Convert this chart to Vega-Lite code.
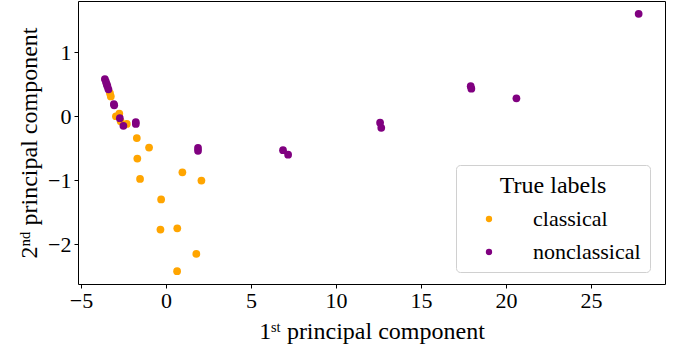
{
  "$schema": "https://vega.github.io/schema/vega-lite/v6.json",
  "width": 587,
  "height": 283,
  "autosize": "none",
  "padding": {"left": 78, "top": 1, "right": 30, "bottom": 68},
  "background": "white",
  "config": {
    "view": {"stroke": "black", "strokeWidth": 1},
    "font": "Liberation Serif"
  },
  "data": {
    "values": [
      {"pc1": -3.25, "pc2": 0.31, "label": "classical"},
      {"pc1": -3.3, "pc2": 0.36, "label": "classical"},
      {"pc1": -2.95, "pc2": 0.0, "label": "classical"},
      {"pc1": -2.75, "pc2": 0.04, "label": "classical"},
      {"pc1": -2.67, "pc2": -0.08, "label": "classical"},
      {"pc1": -2.31, "pc2": -0.12, "label": "classical"},
      {"pc1": -1.72, "pc2": -0.34, "label": "classical"},
      {"pc1": -1.0, "pc2": -0.49, "label": "classical"},
      {"pc1": -1.69, "pc2": -0.66, "label": "classical"},
      {"pc1": -1.53, "pc2": -0.98, "label": "classical"},
      {"pc1": 0.96, "pc2": -0.875, "label": "classical"},
      {"pc1": 2.08, "pc2": -1.005, "label": "classical"},
      {"pc1": -0.29, "pc2": -1.3, "label": "classical"},
      {"pc1": -0.33, "pc2": -1.77, "label": "classical"},
      {"pc1": 0.66, "pc2": -1.75, "label": "classical"},
      {"pc1": 1.78, "pc2": -2.15, "label": "classical"},
      {"pc1": 0.65, "pc2": -2.42, "label": "classical"},
      {"pc1": -3.6, "pc2": 0.58, "label": "nonclassical"},
      {"pc1": -3.54, "pc2": 0.54, "label": "nonclassical"},
      {"pc1": -3.49, "pc2": 0.5, "label": "nonclassical"},
      {"pc1": -3.45, "pc2": 0.47, "label": "nonclassical"},
      {"pc1": -3.39, "pc2": 0.42, "label": "nonclassical"},
      {"pc1": -3.07, "pc2": 0.19, "label": "nonclassical"},
      {"pc1": -3.05, "pc2": 0.17, "label": "nonclassical"},
      {"pc1": -2.72, "pc2": -0.03, "label": "nonclassical"},
      {"pc1": -2.51, "pc2": -0.15, "label": "nonclassical"},
      {"pc1": -1.78, "pc2": -0.09, "label": "nonclassical"},
      {"pc1": -1.78, "pc2": -0.12, "label": "nonclassical"},
      {"pc1": 1.88, "pc2": -0.495, "label": "nonclassical"},
      {"pc1": 1.88, "pc2": -0.54, "label": "nonclassical"},
      {"pc1": 6.88, "pc2": -0.53, "label": "nonclassical"},
      {"pc1": 7.18, "pc2": -0.6, "label": "nonclassical"},
      {"pc1": 12.59, "pc2": -0.1, "label": "nonclassical"},
      {"pc1": 12.66, "pc2": -0.18, "label": "nonclassical"},
      {"pc1": 17.92, "pc2": 0.47, "label": "nonclassical"},
      {"pc1": 17.96, "pc2": 0.43, "label": "nonclassical"},
      {"pc1": 20.61, "pc2": 0.28, "label": "nonclassical"},
      {"pc1": 27.8, "pc2": 1.6, "label": "nonclassical"}
    ]
  },
  "mark": {"type": "circle", "size": 60, "opacity": 1},
  "encoding": {
    "x": {
      "field": "pc1",
      "type": "quantitative",
      "scale": {"domain": [-5.18, 29.35], "nice": false, "zero": false},
      "axis": {
        "title": "1ˢᵗ principal component",
        "values": [-5, 0, 5, 10, 15, 20, 25],
        "grid": false,
        "domain": false,
        "tickColor": "black",
        "tickSize": 4,
        "labelFontSize": 22,
        "labelColor": "black",
        "labelPadding": 2,
        "titleFontSize": 24,
        "titleFontWeight": "normal",
        "titleColor": "black",
        "titlePadding": 8
      }
    },
    "y": {
      "field": "pc2",
      "type": "quantitative",
      "scale": {"domain": [-2.62, 1.8], "nice": false, "zero": false},
      "axis": {
        "title": "2ⁿᵈ principal component",
        "values": [-2, -1, 0, 1],
        "grid": false,
        "domain": false,
        "tickColor": "black",
        "tickSize": 4,
        "labelFontSize": 22,
        "labelColor": "black",
        "labelPadding": 3,
        "titleFontSize": 24,
        "titleFontWeight": "normal",
        "titleColor": "black",
        "titlePadding": 6
      }
    },
    "color": {
      "field": "label",
      "type": "nominal",
      "scale": {"domain": ["classical", "nonclassical"], "range": ["#FFA500", "#800080"]},
      "legend": {
        "title": "True labels",
        "orient": "none",
        "legendX": 378,
        "legendY": 164,
        "direction": "vertical",
        "titleFontSize": 24,
        "titleFontWeight": "normal",
        "titleColor": "black",
        "titleAnchor": "middle",
        "titlePadding": 10,
        "labelFontSize": 22,
        "labelColor": "black",
        "labelOffset": 33,
        "symbolSize": 40,
        "symbolType": "circle",
        "symbolOffset": 13,
        "rowPadding": 11,
        "padding": 9,
        "strokeColor": "#d0d0d0",
        "fillColor": "white",
        "cornerRadius": 4
      }
    }
  }
}
